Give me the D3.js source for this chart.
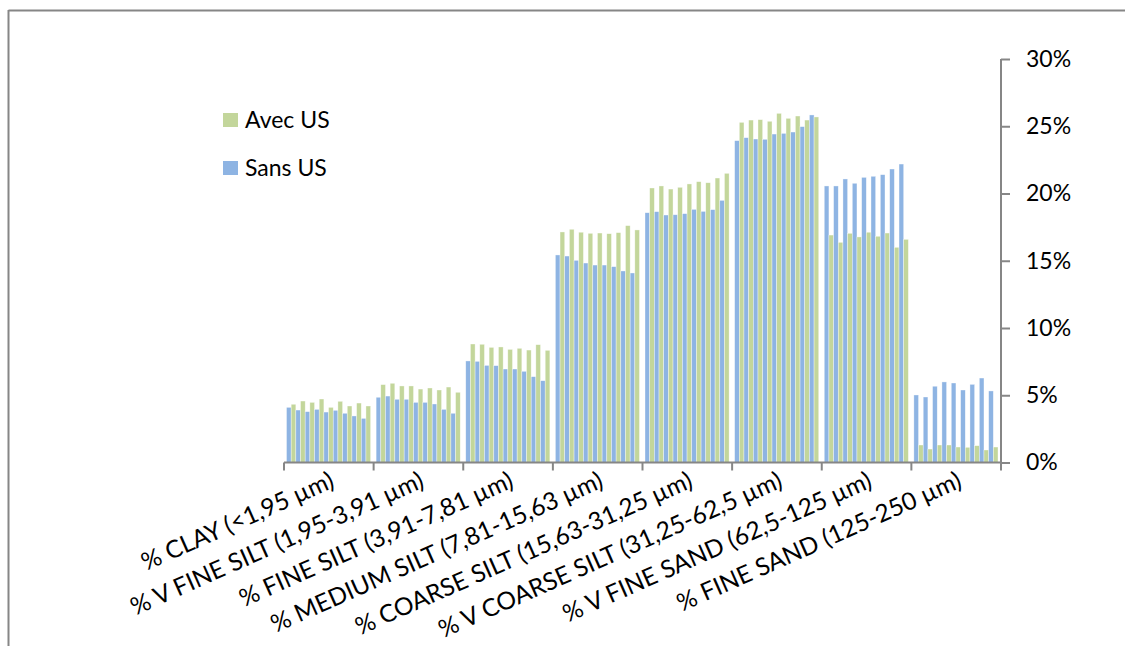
<!DOCTYPE html>
<html>
<head>
<meta charset="utf-8">
<script src="https://cdn.jsdelivr.net/npm/d3@7/dist/d3.min.js"></script>
<style>
  html, body { margin: 0; padding: 0; background: #fff; }
  svg { display: block; font-family: Lato, "Open Sans", sans-serif; }
</style>
</head>
<body>
<svg id="chart" width="1125" height="646"></svg>
<script>
const categories = [
  "% CLAY (<1,95 µm)",
  "% V FINE SILT (1,95-3,91 µm)",
  "% FINE SILT (3,91-7,81 µm)",
  "% MEDIUM SILT (7,81-15,63 µm)",
  "% COARSE SILT (15,63-31,25 µm)",
  "% V COARSE SILT (31,25-62,5 µm)",
  "% V FINE SAND (62,5-125 µm)",
  "% FINE SAND (125-250 µm)"
];
const seriesNames = ["Sans US", "Avec US"];
// values in %, 9 samples per category
const sansUS = [
  [4.10, 3.90, 3.78, 3.95, 3.75, 3.88, 3.66, 3.46, 3.28],
  [4.85, 4.94, 4.70, 4.70, 4.47, 4.47, 4.35, 3.95, 3.66],
  [7.55, 7.52, 7.22, 7.20, 6.95, 6.95, 6.78, 6.38, 6.08],
  [15.43, 15.35, 15.03, 14.83, 14.68, 14.68, 14.56, 14.24, 14.09],
  [18.57, 18.65, 18.40, 18.42, 18.50, 18.82, 18.67, 18.80, 19.49],
  [23.93, 24.15, 24.05, 24.03, 24.42, 24.47, 24.57, 24.97, 25.84],
  [20.56, 20.56, 21.08, 20.76, 21.20, 21.28, 21.40, 21.82, 22.19],
  [5.02, 4.87, 5.67, 5.99, 5.91, 5.39, 5.81, 6.28, 5.32]
];
const avecUS = [
  [4.33, 4.57, 4.47, 4.72, 4.10, 4.55, 4.20, 4.42, 4.20],
  [5.79, 5.89, 5.69, 5.69, 5.46, 5.54, 5.39, 5.61, 5.22],
  [8.81, 8.79, 8.56, 8.59, 8.41, 8.49, 8.36, 8.76, 8.34],
  [17.14, 17.34, 17.12, 17.04, 17.06, 17.01, 17.09, 17.61, 17.29],
  [20.41, 20.56, 20.33, 20.46, 20.71, 20.88, 20.80, 21.15, 21.50],
  [25.29, 25.46, 25.49, 25.37, 25.96, 25.59, 25.76, 25.46, 25.69],
  [16.91, 16.37, 17.04, 16.77, 17.12, 16.82, 17.06, 16.00, 16.59],
  [1.30, 1.00, 1.30, 1.30, 1.15, 1.13, 1.25, 0.93, 1.15]
];
const yTicks = [0, 5, 10, 15, 20, 25, 30];
const colors = { "Sans US": "#8EB4E3", "Avec US": "#C3D69B" };

const svg = d3.select("#chart");
const axisColor = "#868686";

// frame
svg.append("line").attr("x1", 8.5).attr("x2", 1125).attr("y1", 10.5).attr("y2", 10.5)
  .attr("stroke", axisColor).attr("stroke-width", 2);
svg.append("line").attr("x1", 8.5).attr("x2", 8.5).attr("y1", 10).attr("y2", 646)
  .attr("stroke", axisColor).attr("stroke-width", 2);

const plot = { left: 284, right: 1001, top: 59, bottom: 462.5 };

const x = d3.scaleBand().domain(categories).range([plot.left, plot.right]).padding(0);
const y = d3.scaleLinear().domain([0, 30]).range([plot.bottom, plot.top]);

// bars: 9 samples × 2 series interleaved (Sans, Avec)
const slots = d3.range(18);
const xi = d3.scaleBand().domain(slots).range([2.5, x.bandwidth() - 3]).padding(0);

const barData = [];
categories.forEach((c, ci) => {
  for (let s = 0; s < 9; s++) {
    barData.push({ cat: c, slot: s * 2, series: "Sans US", v: sansUS[ci][s] });
    barData.push({ cat: c, slot: s * 2 + 1, series: "Avec US", v: avecUS[ci][s] });
  }
});

svg.append("g").selectAll("rect").data(barData).join("rect")
  .attr("x", d => x(d.cat) + xi(d.slot))
  .attr("width", xi.bandwidth())
  .attr("y", d => y(d.v))
  .attr("height", d => y(0) - y(d.v))
  .attr("fill", d => colors[d.series])
  .attr("stroke", "#ffffff")
  .attr("stroke-opacity", 0.6)
  .attr("stroke-width", 0.6);

// x axis
const xAxis = d3.axisBottom(x).tickSize(8).tickFormat("");
const gx = svg.append("g").attr("transform", `translate(0,${plot.bottom})`).call(xAxis);
gx.select(".domain").attr("stroke", axisColor).attr("stroke-width", 2)
  .attr("d", `M${plot.left},0H${plot.right}`);
gx.selectAll(".tick").remove();
const bounds = categories.map(c => x(c)).concat([plot.right]);
gx.selectAll("line.bt").data(bounds).join("line").attr("class", "bt")
  .attr("x1", d => d).attr("x2", d => d).attr("y1", 0).attr("y2", 8)
  .attr("stroke", axisColor).attr("stroke-width", 2);

// x labels
svg.append("g").selectAll("text").data(categories).join("text")
  .attr("transform", d => `translate(${x(d) + x.bandwidth() / 2 + 7},${plot.bottom + 24}) rotate(-24)`)
  .attr("text-anchor", "end")
  .attr("font-size", 24.5)
  .attr("fill", "#000")
  .text(d => d);

// y axis on right
const yAxis = d3.axisRight(y).tickValues(yTicks).tickSize(9).tickPadding(16)
  .tickFormat(d => d + "%");
const gy = svg.append("g").attr("transform", `translate(${plot.right},0)`).call(yAxis);
gy.select(".domain").attr("stroke", axisColor).attr("stroke-width", 2)
  .attr("d", `M0,${plot.top}V${plot.bottom}`);
gy.selectAll(".tick line").attr("stroke", axisColor).attr("stroke-width", 2);
gy.selectAll(".tick text").attr("font-size", 23).attr("fill", "#000")
  .attr("font-family", "Lato, 'Open Sans', sans-serif");

// legend
const legendItems = ["Avec US", "Sans US"];
const lg = svg.append("g").selectAll("g").data(legendItems).join("g")
  .attr("transform", (d, i) => `translate(223,${113 + i * 48})`);
lg.append("rect").attr("width", 15).attr("height", 14).attr("fill", d => colors[d]);
lg.append("text").attr("x", 22).attr("y", 14.5).attr("font-size", 23).attr("fill", "#000").text(d => d);
</script>
</body>
</html>
